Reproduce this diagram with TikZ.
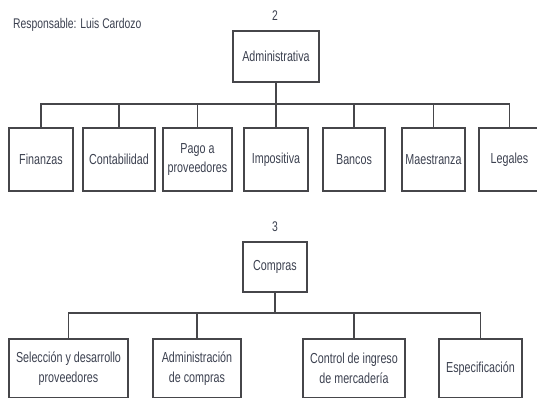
\documentclass[tikz,border=0pt]{standalone}
\usepackage{fontspec}
\setmainfont{Liberation Sans}[FakeStretch=0.74]
\definecolor{linec}{HTML}{46464A}
\definecolor{textc}{HTML}{3C4150}
\begin{document}
\begin{tikzpicture}[x=1pt,y=-1pt,
  box/.style={draw=linec,line width=1.6pt,inner sep=0pt,align=center,text=textc,
    font=\fontsize{14.5}{19.5}\selectfont},
  lbl/.style={inner sep=0pt,text=textc,font=\fontsize{14}{16}\selectfont},
  conn/.style={draw=linec,line width=1.6pt}]
\useasboundingbox[fill=white] (0,0) rectangle (537,397);
% header
\node[lbl,anchor=west] (resp) at (13,25) {Responsable: Luis Cardozo};
\node[lbl] (n2) at (275,16) {2};
\node[box,minimum width=86pt,minimum height=51pt] (adm) at (276,56.5) {Administrativa};
\coordinate (bus1) at (276,104);
% row 1
\node[box,minimum width=64pt,minimum height=63pt] (fin) at (41,159.5) {Finanzas};
\node[box,minimum width=72pt,minimum height=63pt] (con) at (119,159.5) {Contabilidad};
\node[box,minimum width=69pt,minimum height=63pt] (pag) at (197.5,159.5) {Pago a\\proveedores};
\node[box,minimum width=64pt,minimum height=63pt] (imp) at (276,159.5) {Impositiva};
\node[box,minimum width=62pt,minimum height=63pt] (ban) at (354,159.5) {Bancos};
\node[box,minimum width=63pt,minimum height=63pt] (mae) at (433.5,159.5) {Maestranza};
\node[box,minimum width=61pt,minimum height=63pt] (leg) at (509.5,159.5) {Legales};
\draw[conn] (adm.south) -- (bus1);
\foreach \c in {fin,con,pag,imp,ban,mae,leg}
  \draw[conn] (\c.north) |- (bus1);
% section 3
\node[lbl] (n3) at (275,227) {3};
\node[box,minimum width=64pt,minimum height=50pt] (com) at (275,267) {Compras};
\coordinate (bus2) at (275,313);
\node[box,minimum width=119pt,minimum height=59pt] (sel) at (68.5,368.5) {Selección y desarrollo\\proveedores};
\node[box,minimum width=88pt,minimum height=59pt] (adc) at (197,368.5) {Administración\\de compras};
\node[box,minimum width=102pt,minimum height=59pt] (ctl) at (354,368.5) {Control de ingreso\\de mercadería};
\node[box,minimum width=83pt,minimum height=59pt] (esp) at (480.5,368.5) {Especificación};
\draw[conn] (com.south) -- (bus2);
\foreach \c in {sel,adc,ctl,esp}
  \draw[conn] (\c.north) |- (bus2);
\end{tikzpicture}
\end{document}
